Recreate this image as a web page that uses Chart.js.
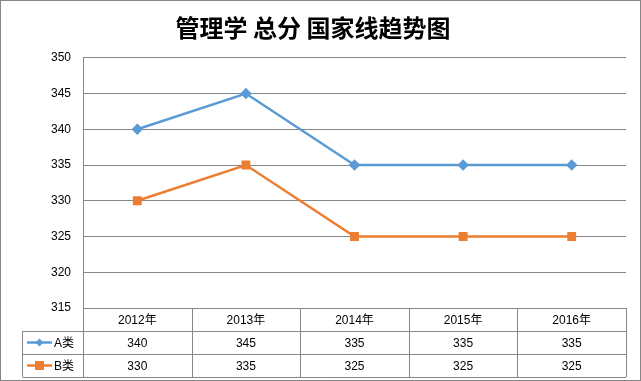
<!DOCTYPE html>
<html>
<head>
<meta charset="utf-8">
<script src="https://cdn.jsdelivr.net/npm/chart.js@4"></script>
<style>
  html, body { margin: 0; padding: 0; background: #fff; }
  #wrap { width: 641px; height: 381px; }
</style>
</head>
<body>
<div id="wrap"><canvas id="trendChart" width="641" height="381"></canvas></div>
<script>
// data
const years = ['2012年', '2013年', '2014年', '2015年', '2016年'];
const seriesA = [340, 345, 335, 335, 335];
const seriesB = [330, 335, 325, 325, 325];
const seriesNames = ['A类', 'B类'];
const seriesColors = ['#5B9BD5', '#ED7D31'];
const yMin = 315, yMax = 350, yStep = 5;

const gridColor = '#868686';
const textFont = '12px "Liberation Sans", "Noto Sans CJK SC", sans-serif';
const rowH = 23;

// data table under the plot, Excel style
const dataTable = {
    id: 'dataTable',
    afterDraw(chart) {
        const ctx = chart.ctx;
        const xs = chart.scales.x;
        const area = chart.chartArea;
        const n = years.length;
        const half = (xs.getPixelForValue(1) - xs.getPixelForValue(0)) / 2;
        const top = area.bottom;
        const legLeft = 22.5;
        const rows = [seriesA, seriesB];

        ctx.save();
        ctx.strokeStyle = gridColor;
        ctx.lineWidth = 1;
        ctx.beginPath();
        // horizontal rules
        for (let r = 1; r <= 3; r++) {
            const y = Math.round(top + r * rowH) + 0.5;
            ctx.moveTo(legLeft, y);
            ctx.lineTo(area.right, y);
        }
        // column rules
        for (let i = 0; i <= n; i++) {
            const x = Math.round(xs.getPixelForValue(0) - half + i * half * 2) + 0.5;
            ctx.moveTo(x, top);
            ctx.lineTo(x, top + 3 * rowH);
        }
        ctx.moveTo(legLeft, top + rowH);
        ctx.lineTo(legLeft, top + 3 * rowH);
        ctx.stroke();

        ctx.fillStyle = '#000';
        ctx.font = textFont;
        ctx.textAlign = 'center';
        ctx.textBaseline = 'middle';
        years.forEach((yr, i) => {
            const cx = xs.getPixelForValue(i);
            ctx.fillText(yr, cx, top + rowH / 2 + 1);
            rows.forEach((vals, r) => {
                ctx.fillText(String(vals[i]), cx, top + rowH * (r + 1.5) + 1);
            });
        });

        // legend keys
        rows.forEach((vals, r) => {
            const cy = top + rowH * (r + 1.5);
            ctx.strokeStyle = seriesColors[r];
            ctx.fillStyle = seriesColors[r];
            ctx.lineWidth = 2.5;
            ctx.beginPath();
            ctx.moveTo(27, cy);
            ctx.lineTo(52, cy);
            ctx.stroke();
            if (r === 0) {
                ctx.beginPath();
                ctx.moveTo(39.5, cy - 4);
                ctx.lineTo(43.5, cy);
                ctx.lineTo(39.5, cy + 4);
                ctx.lineTo(35.5, cy);
                ctx.closePath();
                ctx.fill();
            } else {
                ctx.fillRect(35, cy - 4.5, 9, 9);
            }
            ctx.fillStyle = '#000';
            ctx.textAlign = 'left';
            ctx.fillText(seriesNames[r], 54, cy + 1);
        });

        // outer frame
        ctx.strokeStyle = '#868686';
        ctx.lineWidth = 1;
        ctx.strokeRect(0.5, 0.5, chart.width - 1, chart.height - 1);
        ctx.restore();
    }
};

new Chart(document.getElementById('trendChart'), {
    type: 'line',
    data: {
        labels: years,
        datasets: [{
            label: seriesNames[0],
            data: seriesA,
            borderColor: seriesColors[0],
            backgroundColor: seriesColors[0],
            borderWidth: 2.5,
            pointStyle: 'rectRot',
            pointRadius: 4,
            pointHoverRadius: 4,
            tension: 0
        }, {
            label: seriesNames[1],
            data: seriesB,
            borderColor: seriesColors[1],
            backgroundColor: seriesColors[1],
            borderWidth: 2.5,
            pointStyle: 'rect',
            pointRadius: 4.5,
            pointHoverRadius: 4.5,
            tension: 0
        }]
    },
    options: {
        responsive: false,
        animation: false,
        layout: { padding: { left: 0, right: 15, top: 0, bottom: 73 } },
        plugins: {
            legend: { display: false },
            tooltip: { enabled: false },
            title: {
                display: true,
                text: '管理学 总分 国家线趋势图',
                color: '#000',
                font: { family: '"Noto Sans CJK SC", sans-serif', size: 24, weight: 'bold' },
                padding: { top: 13, bottom: 16 }
            }
        },
        scales: {
            x: {
                offset: true,
                display: false
            },
            y: {
                min: yMin,
                max: yMax,
                ticks: {
                    stepSize: yStep,
                    color: '#000',
                    font: { family: '"Liberation Sans", sans-serif', size: 12 },
                    padding: 12
                },
                grid: { color: gridColor, drawTicks: false },
                border: { display: true, color: gridColor },
                afterFit(scale) { scale.width = 83; }
            }
        }
    },
    plugins: [dataTable]
});
</script>
</body>
</html>
